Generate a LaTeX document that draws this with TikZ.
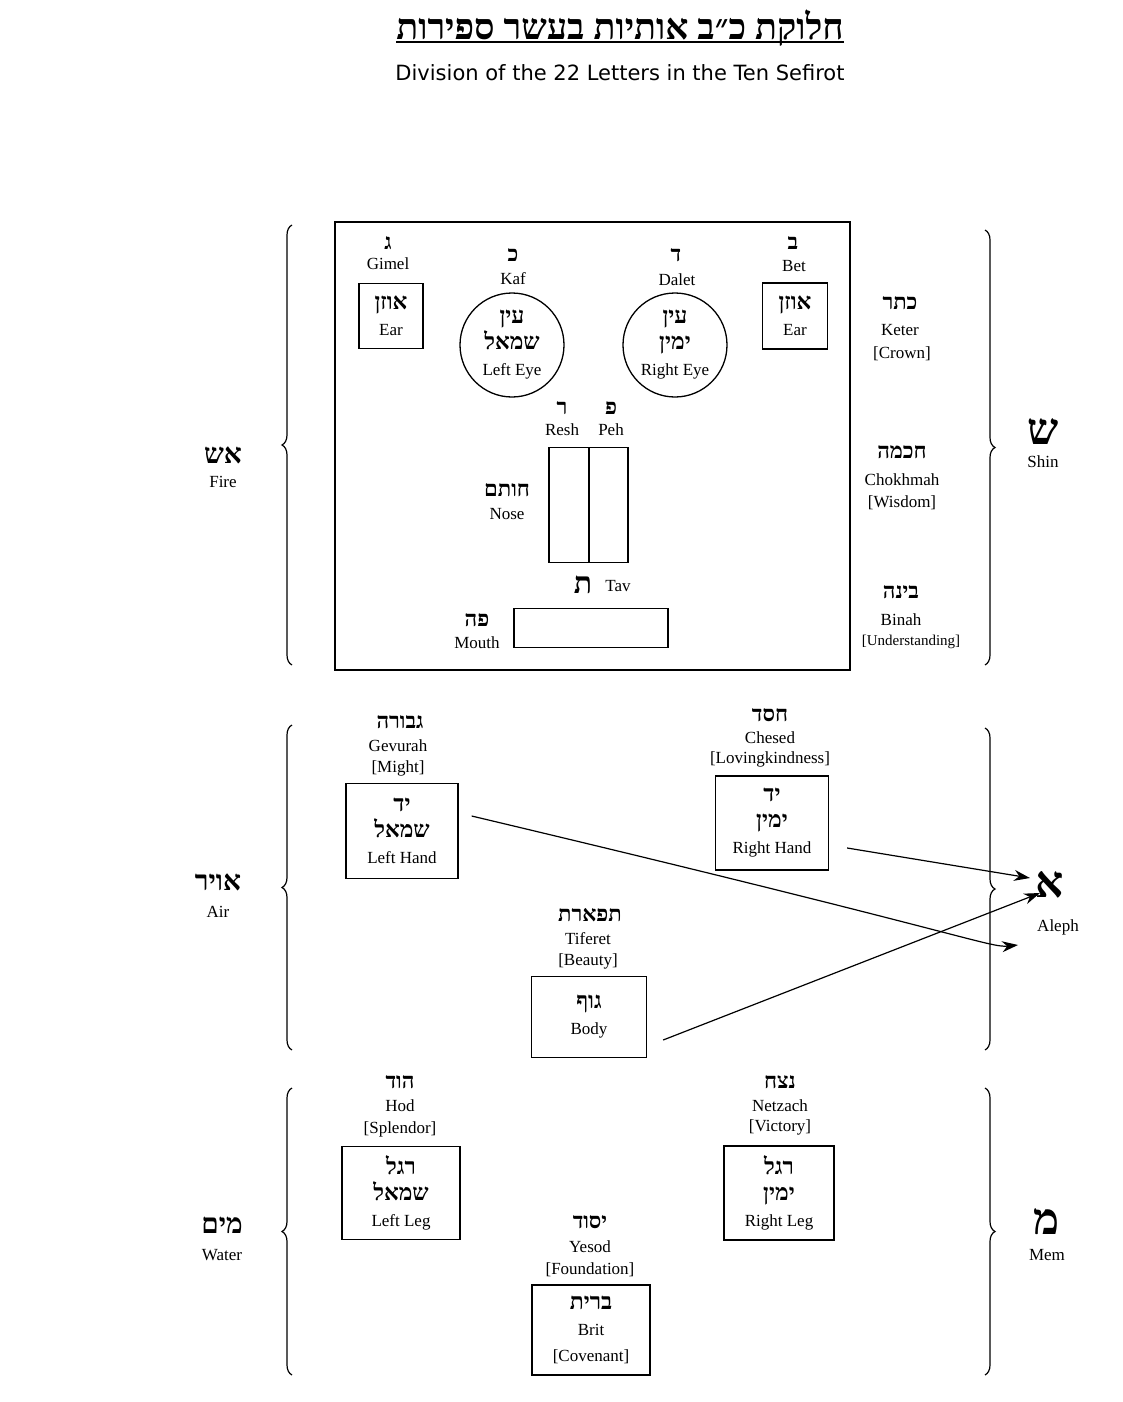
\documentclass[tikz,border=0pt]{standalone}
\usepackage{fontspec}
\setmainfont{Liberation Serif}
\newfontfamily\titlesans{DejaVu Sans}
\usetikzlibrary{decorations.pathreplacing,arrows.meta}
\TeXXeTstate=1
\newcommand{\heb}[1]{\beginR #1\endR}
\newcommand{\hword}[1]{{\fontsize{23}{26}\selectfont\bfseries\heb{#1}}}
\tikzset{
  hb/.style={font=\fontsize{22}{24}\selectfont\bfseries, inner sep=0pt},
  en/.style={font=\fontsize{17}{19}\selectfont, inner sep=0pt},
  big/.style={font=\fontsize{44}{46}\selectfont\bfseries, inner sep=0pt},
  organ/.style={draw, line width=1.3pt, align=center, font=\fontsize{17}{26}\selectfont, inner sep=0pt},
  brc/.style={decorate, decoration={brace, amplitude=10pt}, line width=1.2pt},
  arr/.style={-{Stealth[length=16pt,width=11pt]}, line width=1.2pt}
}
\begin{document}
\begin{tikzpicture}[x=1pt, y=-1pt]
\useasboundingbox (0,0) rectangle (1122,1402);
% title
\node[font=\fontsize{36}{38}\selectfont\bfseries, inner sep=0pt] (title) at (620,28) {\heb{חלוקת כ״ב אותיות בעשר ספירות}};
\draw[line width=2pt] ([yshift=4pt]title.south west) -- ([yshift=4pt]title.south east);
\node[font=\titlesans\fontsize{21}{23}\selectfont, inner sep=0pt] (subtitle) at (620,73) {Division of the 22 Letters in the Ten Sefirot};
% head
\draw[line width=1.5pt] (335,222) rectangle (850,670);
\node[hb] (gimel) at (388,243) {\heb{ג}};
\node[en] (gimelt) at (388,264) {Gimel};
\node[organ, minimum width=64pt, minimum height=65pt] (lear) at (391,316) {\hword{אוזן}\\Ear};
\node[hb] (kaf) at (513,255) {\heb{כ}};
\node[en] (kaft) at (513,279) {Kaf};
\node[organ, circle, minimum size=104pt] (leye) at (512,345) {\hword{עין}\\\hword{שמאל}\\Left Eye};
\node[hb] (dalet) at (676,255) {\heb{ד}};
\node[en] (daletT) at (677,280) {Dalet};
\node[organ, circle, minimum size=104pt] (reye) at (675,345) {\hword{עין}\\\hword{ימין}\\Right Eye};
\node[hb] (bet) at (793,243) {\heb{ב}};
\node[en] (bett) at (794,266) {Bet};
\node[organ, minimum width=65pt, minimum height=66pt] (rear) at (795,316) {\hword{אוזן}\\Ear};
\node[hb] (resh) at (562,408) {\heb{ר}};
\node[en] (resht) at (562,430) {Resh};
\node[hb] (peh) at (611,408) {\heb{פ}};
\node[en] (peht) at (611,430) {Peh};
\node[draw, line width=1.3pt, minimum width=40pt, minimum height=115pt, inner sep=0pt] (nosel) at (569,505) {};
\node[draw, line width=1.3pt, minimum width=39pt, minimum height=115pt, inner sep=0pt] (noser) at (608.5,505) {};
\node[hb] (noseh) at (507,490) {\heb{חותם}};
\node[en] (noset) at (507,514) {Nose};
\node[hb, font=\fontsize{30}{32}\selectfont\bfseries] (tav) at (583,585) {\heb{ת}};
\node[en] (tavt) at (618,586) {Tav};
\node[draw, line width=1.3pt, minimum width=154pt, minimum height=39pt, inner sep=0pt] (mouth) at (591,628) {};
\node[hb] (mouthh) at (477,620) {\heb{פה}};
\node[en] (moutht) at (477,643) {Mouth};
% right column of sefirot
\node[hb] (keter) at (900,303) {\heb{כתר}};
\node[en] (kett) at (900,330) {Keter};
\node[en] (ketb) at (902,354) {[Crown]};
\node[hb] (chokh) at (902,452) {\heb{חכמה}};
\node[en] (chokt) at (902,480) {Chokhmah};
\node[en] (chokb) at (902,503) {[Wisdom]};
\node[hb] (binah) at (901,592) {\heb{בינה}};
\node[en] (binat) at (901,620) {Binah};
\node[en, font=\fontsize{15}{17}\selectfont] (binab) at (911,642) {[Understanding]};
% fire / shin
\draw[brc] (292,665) -- (292,225);
\node[hb, font=\fontsize{28}{30}\selectfont\bfseries] (fire) at (223,455) {\heb{אש}};
\node[en] (firet) at (223,482) {Fire};
\draw[brc] (985,230) -- (985,665);
\node[big] (shin) at (1043,432) {\heb{ש}};
\node[en] (shint) at (1043,462) {Shin};
% air
\draw[brc] (292,1050) -- (292,725);
\node[hb, font=\fontsize{28}{30}\selectfont\bfseries] (air) at (218,882) {\heb{אויר}};
\node[en] (airt) at (218,912) {Air};
\draw[brc] (985,728) -- (985,1050);
\node[big] (aleph) at (1050,885) {\heb{א}};
\node[en] (alepht) at (1058,927) {Aleph};
\node[hb] (gevurah) at (400,722) {\heb{גבורה}};
\node[en] (gevt) at (398,746) {Gevurah};
\node[en] (gevb) at (398,768) {[Might]};
\node[organ, minimum width=112pt, minimum height=95pt] (lhand) at (402,831) {\hword{יד}\\\hword{שמאל}\\Left Hand};
\node[hb] (chesed) at (770,715) {\heb{חסד}};
\node[en] (chest) at (770,738) {Chesed};
\node[en] (chesb) at (770,759) {[Lovingkindness]};
\node[organ, minimum width=113pt, minimum height=94pt] (rhand) at (772,823) {\hword{יד}\\\hword{ימין}\\Right Hand};
\node[hb] (tiferet) at (590,915) {\heb{תפארת}};
\node[en] (tift) at (588,939) {Tiferet};
\node[en] (tifb) at (588,961) {[Beauty]};
\node[organ, minimum width=115pt, minimum height=81pt] (body) at (589,1017) {\hword{גוף}\\Body};
\coordinate (alin) at (1030,878);
\coordinate (alup) at (1040,893);
\coordinate (allo) at (1018,945);
\draw[arr] ([xshift=18pt,yshift=-25pt]rhand.east) -- (alin);
\draw[arr] ([xshift=13pt,yshift=15pt]lhand.east) .. controls (960,932) and (990,948) .. (allo);
\draw[arr] ([xshift=16pt,yshift=-23pt]body.east) -- (alup);
% water
\draw[brc] (292,1375) -- (292,1088);
\node[hb, font=\fontsize{28}{30}\selectfont\bfseries] (water) at (222,1225) {\heb{מים}};
\node[en] (watert) at (222,1255) {Water};
\draw[brc] (985,1088) -- (985,1375);
\node[big] (mem) at (1047,1222) {\heb{מ}};
\node[en] (memt) at (1047,1255) {Mem};
\node[hb] (hod) at (400,1082) {\heb{הוד}};
\node[en] (hodt) at (400,1106) {Hod};
\node[en] (hodb) at (400,1129) {[Splendor]};
\node[organ, minimum width=118pt, minimum height=93pt] (lleg) at (401,1193) {\hword{רגל}\\\hword{שמאל}\\Left Leg};
\node[hb] (netzach) at (780,1082) {\heb{נצח}};
\node[en] (netzt) at (780,1106) {Netzach};
\node[en] (netzb) at (780,1127) {[Victory]};
\node[organ, minimum width=110pt, minimum height=94pt] (rleg) at (779,1193) {\hword{רגל}\\\hword{ימין}\\Right Leg};
\node[hb] (yesod) at (590,1222) {\heb{יסוד}};
\node[en] (yest) at (590,1247) {Yesod};
\node[en] (yesb) at (590,1270) {[Foundation]};
\node[organ, minimum width=118pt, minimum height=90pt] (brit) at (591,1330) {\hword{ברית}\\Brit\\{[Covenant]}};
\end{tikzpicture}
\end{document}
